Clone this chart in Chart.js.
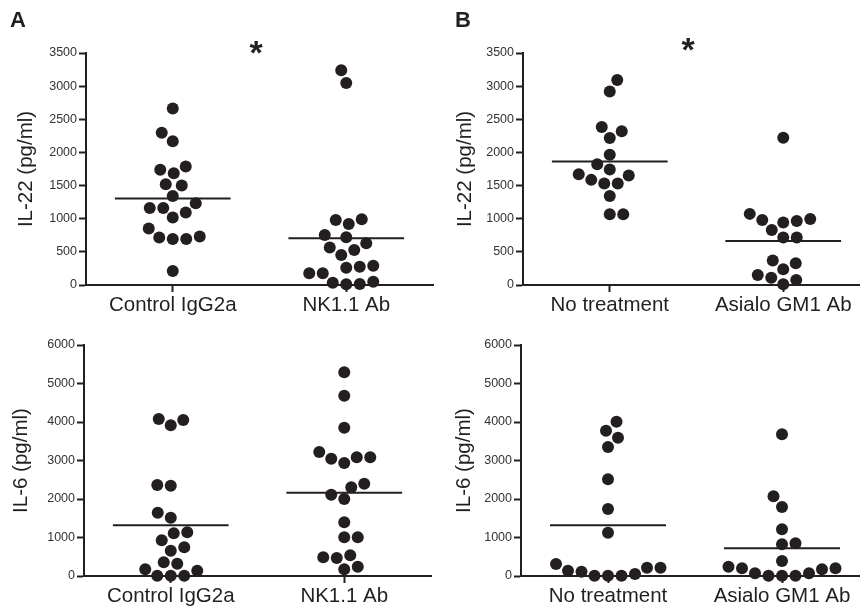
<!DOCTYPE html>
<html>
<head>
<meta charset="utf-8">
<script src="https://cdn.jsdelivr.net/npm/chart.js@4.4.1/dist/chart.umd.min.js"></script>
<style>
  html, body { margin: 0; padding: 0; background: #fff; width: 860px; height: 606px; overflow: hidden; }
  #wrap { position: relative; width: 860px; height: 606px; overflow: hidden; }
  canvas { position: absolute; }
  .lbl { position: absolute; font-family: "Liberation Sans", Arial, Helvetica, sans-serif; font-weight: bold; color: #231f20; line-height: 1; white-space: nowrap; }
</style>
</head>
<body>
<div id="wrap">
  <canvas id="cC" width="440" height="294" style="left:0px;top:312px;width:440px;height:294px"></canvas>
  <canvas id="cD" width="450" height="294" style="left:430px;top:312px;width:450px;height:294px"></canvas>
  <canvas id="cA" width="440" height="322" style="left:0px;top:0px;width:440px;height:322px"></canvas>
  <canvas id="cB" width="450" height="322" style="left:430px;top:0px;width:450px;height:322px"></canvas>
  <div class="lbl" style="left:10px;top:9px;font-size:22px">A</div>
  <div class="lbl" style="left:455px;top:9px;font-size:22px">B</div>
  <div class="lbl" style="left:236px;top:35px;width:40px;text-align:center;font-size:34px">*</div>
  <div class="lbl" style="left:668px;top:32px;width:40px;text-align:center;font-size:34px">*</div>
</div>
<script>
// ---------------- data ----------------
const categoriesA = ['Control IgG2a', 'NK1.1 Ab'];
const categoriesB = ['No treatment', 'Asialo GM1 Ab'];

const il22Control = [2664, 2296, 2170, 1787, 1737, 1687, 1521, 1500, 1344, 1234, 1163, 1163, 1093, 1017, 851, 730, 715, 695, 695, 211];
const il22NK11    = [3238, 3046, 992, 982, 921, 755, 720, 629, 564, 529, 453, 292, 277, 262, 176, 176, 50, 35, 15, 10];
const il22NoTx    = [3092, 2920, 2382, 2321, 2216, 1964, 1823, 1742, 1672, 1652, 1586, 1531, 1531, 1344, 1067, 1067];
const il22Asialo  = [2221, 1073, 997, 982, 967, 942, 831, 715, 715, 368, 327, 237, 151, 111, 76, 10];

const il6Control  = [4078, 4052, 3913, 2364, 2346, 1645, 1515, 1134, 1108, 926, 745, 658, 355, 320, 173, 139, 9, 9, 9];
const il6NK11     = [5290, 4684, 3853, 3221, 3082, 3048, 3082, 2935, 2398, 2303, 2113, 2000, 1394, 1004, 1004, 537, 468, 485, 242, 173];
const il6NoTx     = [4009, 3775, 3593, 3351, 2511, 1740, 1126, 312, 216, 216, 113, 139, 9, 9, 9, 52];
const il6Asialo   = [3680, 2069, 1792, 1212, 848, 822, 390, 242, 199, 199, 173, 69, 69, 9, 9, 9];

// group means (horizontal bars)
const meanIL22A = [1304, 705];
const meanIL22B = [1863, 665];
const meanIL6A  = [1316, 2165];
const meanIL6B  = [1316, 719];

const ticksIL22 = [0, 500, 1000, 1500, 2000, 2500, 3000, 3500];
const ticksIL6  = [0, 1000, 2000, 3000, 4000, 5000, 6000];

// ---------------- styling ----------------
const FONT = '"Liberation Sans", Arial, Helvetica, sans-serif';
const INK = '#231f20';
const BIG = 20.5;

function makePanel(id, cats, groups, means, ticks, title, geo) {
  const datasets = [{
    type: 'scatter',
    data: [],
    pointRadius: 6,
    pointHoverRadius: 6,
    backgroundColor: INK,
    borderWidth: 0,
    clip: false
  }];
  means.forEach((m, i) => {
    datasets.push({
      type: 'scatter',
      showLine: true,
      data: [{ x: i + 1 - 1/3, y: m }, { x: i + 1 + 1/3, y: m }],
      borderColor: INK,
      borderWidth: 2,
      pointRadius: 0,
      clip: false
    });
  });
  const gridOpts = { drawOnChartArea: false, drawTicks: true, tickLength: 7, tickWidth: 2, tickColor: INK };
  const chart = new Chart(document.getElementById(id), {
    type: 'scatter',
    data: { datasets },
    options: {
      responsive: false,
      animation: false,
      events: [],
      layout: { padding: { top: geo.padTop, right: geo.padRight, bottom: 0, left: 0 } },
      plugins: { legend: { display: false }, tooltip: { enabled: false } },
      scales: {
        x: {
          type: 'linear', min: 0.5, max: 2.5,
          afterBuildTicks: s => { s.ticks = [{ value: 1 }, { value: 2 }]; },
          afterFit: s => { s.height = geo.xHeight; },
          ticks: {
            callback: v => cats[Math.round(v) - 1],
            font: { family: FONT, size: BIG }, color: INK, padding: 1,
            autoSkip: false, maxRotation: 0, minRotation: 0
          },
          grid: gridOpts,
          border: { display: true, width: 2, color: INK }
        },
        y: {
          type: 'linear', min: ticks[0], max: ticks[ticks.length - 1],
          afterBuildTicks: s => { s.ticks = ticks.map(v => ({ value: v })); },
          afterFit: s => { s.width = geo.yWidth; },
          ticks: { callback: v => String(v), font: { family: FONT, size: 12.5 }, color: '#333', padding: 2 },
          grid: gridOpts,
          border: { display: true, width: 2, color: INK },
          title: {
            display: true, text: title, color: INK,
            font: { family: FONT, size: BIG },
            padding: { top: geo.titlePad, bottom: 0 }
          }
        }
      }
    }
  });

  // beeswarm-style layout of the dots, computed with the chart's own scales
  const xs = chart.scales.x, ys = chart.scales.y;
  const pxPerUnit = xs.getPixelForValue(2) - xs.getPixelForValue(1);
  const minDist = 13.5;
  const pts = [];
  groups.forEach((vals, gi) => {
    const order = vals.map((v, i) => i).sort((a, b) => vals[a] - vals[b]);
    const placed = [];
    let plus = 0, minus = 0;
    order.forEach(idx => {
      const v = vals[idx];
      const py = ys.getPixelForValue(v);
      const free = dx => placed.every(p => Math.hypot(p.dx - dx, p.py - py) >= minDist);
      let chosen = 0;
      for (let d = 0; d < 200; d += 0.5) {
        const cand = d === 0 ? [0] : (plus <= minus ? [d, -d] : [-d, d]);
        const ok = cand.find(c => free(c));
        if (ok !== undefined) { chosen = ok; break; }
      }
      if (chosen > 0) plus++; else if (chosen < 0) minus++;
      placed.push({ dx: chosen, py });
      pts.push({ x: gi + 1 + chosen / pxPerUnit, y: v });
    });
  });
  chart.data.datasets[0].data = pts;
  chart.update('none');
  return chart;
}

makePanel('cA', categoriesA, [il22Control, il22NK11], meanIL22A, ticksIL22, 'IL-22 (pg/ml)',
  { padTop: 53, padRight: 7, xHeight: 37, yWidth: 86, titlePad: 14.5 });
makePanel('cB', categoriesB, [il22NoTx, il22Asialo], meanIL22B, ticksIL22, 'IL-22 (pg/ml)',
  { padTop: 53, padRight: 10, xHeight: 37, yWidth: 93, titlePad: 23.5 });
makePanel('cC', categoriesA, [il6Control, il6NK11], meanIL6A, ticksIL6, 'IL-6 (pg/ml)',
  { padTop: 33, padRight: 9, xHeight: 30, yWidth: 84, titlePad: 9.5 });
makePanel('cD', categoriesB, [il6NoTx, il6Asialo], meanIL6B, ticksIL6, 'IL-6 (pg/ml)',
  { padTop: 33, padRight: 11, xHeight: 30, yWidth: 91, titlePad: 22.5 });
</script>
</body>
</html>
